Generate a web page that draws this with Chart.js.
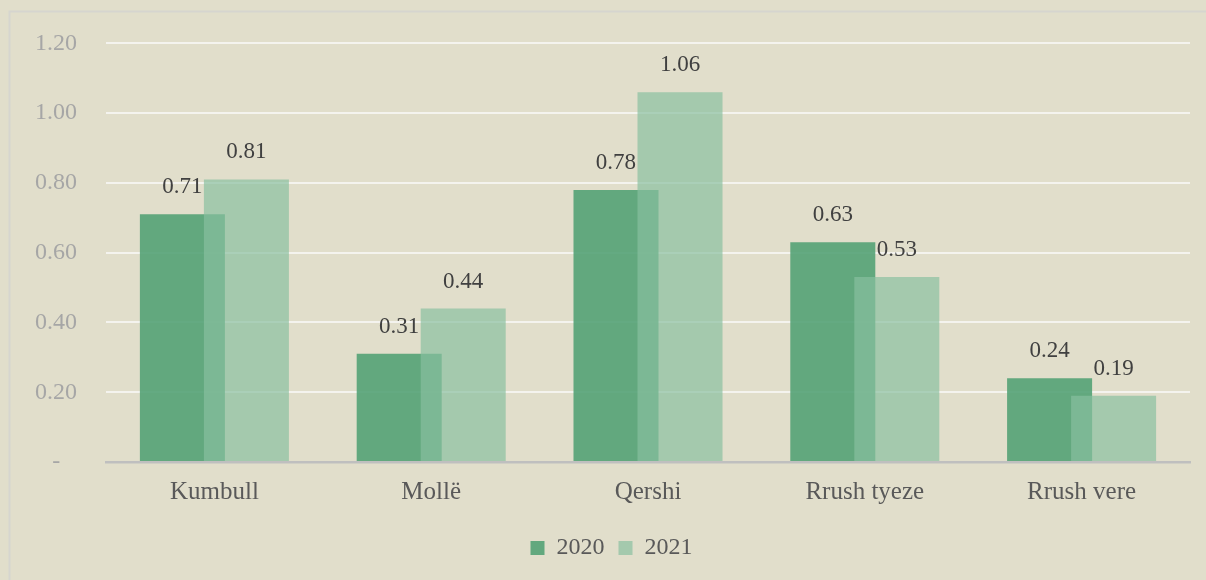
<!DOCTYPE html>
<html>
<head>
<meta charset="utf-8">
<script src="https://cdn.jsdelivr.net/npm/chart.js@4/dist/chart.umd.min.js"></script>
<style>
  html, body { margin: 0; padding: 0; background: #e1decb; }
  #wrap { position: absolute; left: 0; top: 0; width: 1206px; height: 580px; }
</style>
</head>
<body>
<div id="wrap"><canvas id="chart" width="1206" height="580"></canvas></div>
<script>
// data
const categories = ['Kumbull', 'Mollë', 'Qershi', 'Rrush tyeze', 'Rrush vere'];
const values2020 = [0.71, 0.31, 0.78, 0.63, 0.24];
const values2021 = [0.81, 0.44, 1.06, 0.53, 0.19];
const seriesNames = ['2020', '2021'];
const yMax = 1.2;
const yStep = 0.2;

const FONT = '"Liberation Serif", "DejaVu Serif", serif';

// page background + frame line (top/left only, the rest runs off the picture)
const framePlugin = {
  id: 'frame',
  beforeDraw(chart) {
    const ctx = chart.ctx;
    ctx.save();
    ctx.fillStyle = '#e1decb';
    ctx.fillRect(0, 0, chart.width, chart.height);
    ctx.strokeStyle = '#d6d5cf';
    ctx.lineWidth = 2;
    ctx.beginPath();
    ctx.moveTo(9.5, chart.height + 5);
    ctx.lineTo(9.5, 11.5);
    ctx.lineTo(chart.width + 5, 11.5);
    ctx.stroke();
    ctx.restore();
  }
};

// 2021 bars sit on top of the 2020 bars, then value labels over everything
const overlapPlugin = {
  id: 'overlap',
  beforeDatasetDraw(chart, args) {
    if (args.index === 1) return false;
  },
  afterDatasetsDraw(chart) {
    const ctx = chart.ctx;
    const area = chart.chartArea;
    const meta = chart.getDatasetMeta(1);
    if (!meta.hidden) {
      ctx.save();
      ctx.beginPath();
      ctx.rect(area.left, area.top - 2, area.right - area.left, area.bottom - area.top + 2);
      ctx.clip();
      meta.controller.draw();
      ctx.restore();
    }
    ctx.save();
    ctx.font = '23px ' + FONT;
    ctx.fillStyle = '#404040';
    ctx.textAlign = 'center';
    ctx.textBaseline = 'middle';
    chart.data.datasets.forEach((ds, i) => {
      const m = chart.getDatasetMeta(i);
      if (m.hidden) return;
      m.data.forEach((bar, j) => {
        ctx.fillText(ds.data[j].toFixed(2), bar.x, bar.y - 27);
      });
    });
    ctx.restore();
  }
};

new Chart(document.getElementById('chart'), {
  type: 'bar',
  data: {
    labels: categories,
    datasets: [
      {
        label: seriesNames[0],
        data: values2020,
        backgroundColor: 'rgba(84,162,117,0.9)',
        borderWidth: 0
      },
      {
        label: seriesNames[1],
        data: values2021,
        backgroundColor: 'rgba(136,191,159,0.69)',
        borderWidth: 0
      }
    ]
  },
  options: {
    responsive: false,
    animation: false,
    layout: { padding: { left: 33, right: 16, top: 30, bottom: 10 } },
    datasets: {
      bar: { categoryPercentage: 0.5905, barPercentage: 1.328 }
    },
    scales: {
      x: {
        grid: { display: false, drawTicks: false },
        border: { display: true, color: '#bfbfbf', width: 2.5 },
        ticks: { color: '#595959', font: { family: FONT, size: 25 }, padding: 15 }
      },
      y: {
        min: 0,
        max: yMax,
        afterFit(scale) { scale.width = 73; },
        grid: {
          drawTicks: false,
          color: ctx => ctx.tick && ctx.tick.value === 0 ? 'rgba(0,0,0,0)' : '#f4f3ee',
          lineWidth: 2
        },
        border: { display: false },
        ticks: {
          stepSize: yStep,
          padding: 29,
          color: '#a6a6a6',
          font: { family: FONT, size: 24 },
          callback: v => Math.abs(v) < 1e-9 ? '-  \u2009' : v.toFixed(2)
        }
      }
    },
    plugins: {
      legend: {
        position: 'bottom',
        labels: {
          boxWidth: 14,
          boxHeight: 14,
          padding: 14,
          color: '#595959',
          font: { family: FONT, size: 24 }
        }
      },
      tooltip: { enabled: false }
    }
  },
  plugins: [framePlugin, overlapPlugin]
});
</script>
</body>
</html>
